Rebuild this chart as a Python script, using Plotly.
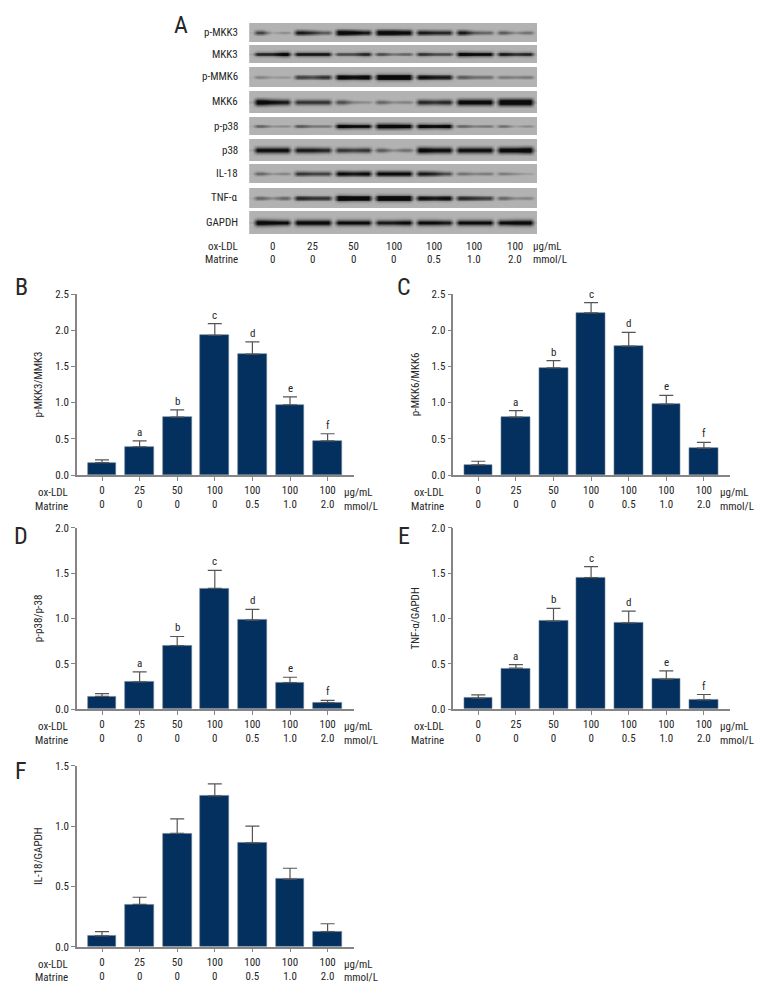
import math
import plotly.graph_objects as go

W, H = 780, 1008
FONT = "Roboto Condensed, Open Sans Condensed, DejaVu Sans Condensed, Roboto"
TXT = "#262626"
AXIS = "#858585"
BAR = "#03305f"
FS = 11

ox_ldl = ["0", "25", "50", "100", "100", "100", "100"]
matrine = ["0", "0", "0", "0", "0.5", "1.0", "2.0"]
letters = ["", "a", "b", "c", "d", "e", "f"]

# bar heights and the tops of their error bars
mkk3_val = [0.17, 0.39, 0.80, 1.93, 1.67, 0.97, 0.47]
mkk3_top = [0.21, 0.47, 0.90, 2.09, 1.84, 1.08, 0.57]
mkk6_val = [0.14, 0.80, 1.48, 2.24, 1.78, 0.98, 0.37]
mkk6_top = [0.19, 0.89, 1.58, 2.38, 1.97, 1.10, 0.45]
p38_val = [0.14, 0.30, 0.70, 1.33, 0.98, 0.29, 0.07]
p38_top = [0.17, 0.41, 0.80, 1.53, 1.10, 0.35, 0.095]
tnf_val = [0.12, 0.45, 0.97, 1.45, 0.95, 0.33, 0.10]
tnf_top = [0.155, 0.49, 1.11, 1.57, 1.08, 0.42, 0.16]
il18_val = [0.09, 0.35, 0.94, 1.25, 0.86, 0.56, 0.125]
il18_top = [0.125, 0.41, 1.06, 1.35, 1.00, 0.65, 0.19]

# blot band darkness: left, middle, right part of each lane
blot_pmkk3 = [.7,.2,.35, .85,.75,.6, 1,.95,.85, 1,1,.95, .85,.8,.8, .85,.6,.55, .6,.35,.5]
blot_mkk3 = [.75,.75,.9, .8,.8,.8, .6,.6,.75, .6,.4,.5, .7,.6,.6, .9,.85,.85, .8,.7,.75]
blot_pmmk6 = [.35,.2,.25, .65,.6,.7, .9,.85,.9, 1,1,1, .85,.8,.8, .55,.45,.45, .4,.35,.4]
blot_mkk6 = [.95,.85,.8, .7,.7,.7, .6,.35,.3, .5,.3,.35, .75,.7,.75, .9,.9,.9, 1,1,1]
blot_pp38 = [.5,.25,.3, .55,.4,.4, .9,.85,.85, 1,1,.95, .9,.85,.9, .5,.35,.4, .45,.15,.3]
blot_p38 = [.85,.85,.85, .8,.8,.75, .7,.65,.7, .55,.3,.45, .9,.85,.85, .85,.85,.85, .9,.9,.95]
blot_il18 = [.55,.3,.4, .75,.7,.7, .9,.85,.9, .9,.9,.9, .85,.8,.65, .5,.4,.45, .45,.35,.25]
blot_tnf = [.5,.3,.5, .75,.7,.7, 1,.95,.95, 1,1,1, .85,.8,.85, .75,.7,.65, .5,.3,.35]
blot_gapdh = [1,.95,.9, .95,.95,.95, .9,.9,.9, .85,.85,.9, .9,.9,.85, .9,.9,.9, .9,.95,.95]

blots = [
    ("p-MKK3", blot_pmkk3, 23, 42),
    ("MKK3", blot_mkk3, 45, 63),
    ("p-MMK6", blot_pmmk6, 67, 87),
    ("MKK6", blot_mkk6, 91, 113),
    ("p-p38", blot_pp38, 117, 135),
    ("p38", blot_p38, 139, 161),
    ("IL-18", blot_il18, 164, 183),
    ("TNF-α", blot_tnf, 188, 208),
    ("GAPDH", blot_gapdh, 211, 234),
]

panels = [
    ("B", "p-MKK3/MMK3", mkk3_val, mkk3_top, 2.5, 77, 294, 475, [0, .5, 1, 1.5, 2, 2.5], True),
    ("C", "p-MKK6/MKK6", mkk6_val, mkk6_top, 2.5, 453.3, 294, 475, [0, .5, 1, 1.5, 2, 2.5], True),
    ("D", "p-p38/p-38", p38_val, p38_top, 2.0, 77, 527.7, 709, [0, .5, 1, 1.5, 2], True),
    ("E", "TNF-α/GAPDH", tnf_val, tnf_top, 2.0, 453.3, 527.7, 709, [0, .5, 1, 1.5, 2], True),
    ("F", "IL-18/GAPDH", il18_val, il18_top, 1.5, 77, 765.7, 946.7, [0, .5, 1, 1.5], False),
]

fig = go.Figure()
annots = []
layout = {}


def fx(p):
    return p / W


def fy(p):
    return 1 - p / H


def note(text, x, y, anchor="center", size=FS, angle=0):
    annots.append(dict(text=text, x=fx(x), y=fy(y), xref="paper", yref="paper",
                       xanchor=anchor, yanchor="middle", showarrow=False, textangle=angle,
                       font=dict(family=FONT, size=size, color=TXT)))


# ---------- panel A ----------
n = 0
for name, vals, top, bot in blots:
    n += 1
    xs, cols = [], []
    for lane in range(7):
        L, M, R = vals[lane * 3:lane * 3 + 3]
        prev = vals[lane * 3 - 1] if lane else L
        xs += [lane + k / 8 for k in range(-4, 4)]
        cols += [0.2 * (prev + L) / 2, L, L, (L + M) / 2, M, (M + R) / 2, R, R]
    xs.append(6.5)
    cols.append(0.2 * vals[-1])
    ys = [i / 12 for i in range(-12, 13)]
    z = []
    for y in ys:
        row = []
        for c in cols:
            w = 0.05 + 0.25 * c
            row.append(min(1, 1.25 * c ** 1.3 * math.exp(-(y / w) ** 2)))
        z.append(row)
    fig.add_trace(go.Heatmap(x=xs, y=ys, z=z, zmin=0, zmax=1, zsmooth="best", showscale=False,
                             hoverinfo="skip", xaxis=f"x{n}", yaxis=f"y{n}",
                             colorscale=[[0, "#b2b2b2"], [0.5, "#666666"], [1, "#0a0a0a"]]))
    layout[f"xaxis{n}"] = dict(domain=[fx(247), fx(537)], anchor=f"y{n}", visible=False,
                               automargin=False, range=[-0.617, 6.54], fixedrange=True)
    layout[f"yaxis{n}"] = dict(domain=[fy(bot), fy(top)], anchor=f"x{n}", visible=False,
                               automargin=False, range=[-1, 1], fixedrange=True)
    note(name, 240, (top + bot) / 2, "right")

for i in range(7):
    note(ox_ldl[i], 272 + 40.5 * i, 246)
    note(matrine[i], 272 + 40.5 * i, 259)
note("ox-LDL", 240, 246, "right")
note("Matrine", 240, 259, "right")
note("μg/mL", 531, 246, "left")
note("mmol/L", 531, 259, "left")
note("A", 181, 25, size=24)

# ---------- bar panels ----------
for tag, ytitle, vals, tops, ymax, x0, ytop, ybot, yticks, with_letters in panels:
    n += 1
    step = 37.6
    c0 = x0 + 25
    right = x0 + 277
    fig.add_trace(go.Bar(
        x=list(range(7)), y=vals, width=0.77, xaxis=f"x{n}", yaxis=f"y{n}",
        marker=dict(color=BAR, line=dict(color="#6f7f92", width=0.6)),
        error_y=dict(type="data", symmetric=False, array=[t - v for t, v in zip(tops, vals)],
                     arrayminus=[0] * 7, color="#555555", thickness=1.2, width=7),
        hoverinfo="skip"))
    layout[f"xaxis{n}"] = dict(
        domain=[fx(x0), fx(right)], anchor=f"y{n}", range=[-25 / step, (right - c0) / step],
        automargin=False,
        tickmode="array", tickvals=list(range(7)),
        ticktext=[f"{a}<br>{b}" for a, b in zip(ox_ldl, matrine)],
        ticks="outside", ticklen=4, tickwidth=1.3, tickcolor=AXIS, tickangle=0,
        showline=True, linecolor=AXIS, linewidth=1.5, showgrid=False, zeroline=False,
        tickfont=dict(family=FONT, size=FS, color=TXT), fixedrange=True)
    layout[f"yaxis{n}"] = dict(
        domain=[fy(ybot), fy(ytop)], anchor=f"x{n}", range=[0, ymax], automargin=False,
        tickmode="array", tickvals=yticks, ticktext=[f"{t:.1f}" for t in yticks],
        ticks="outside", ticklen=4, tickwidth=1.3, tickcolor=AXIS,
        showline=True, linecolor=AXIS, linewidth=1.5, showgrid=False, zeroline=False,
        tickfont=dict(family=FONT, size=FS, color=TXT), fixedrange=True,
        title=dict(text=ytitle, font=dict(family=FONT, size=FS, color=TXT), standoff=10))
    row1, row2 = ybot + 17.5, ybot + 31
    note("ox-LDL", x0 - 7, row1, "right")
    note("Matrine", x0 - 7, row2, "right")
    note("μg/mL", x0 + 265, row1, "left")
    note("mmol/L", x0 + 265, row2, "left")
    note(tag, x0 - 56 if x0 < 100 else x0 - 49, ytop - 7 if tag in "BC" else ytop + (8 if tag in "DE" else 5), size=24)
    if with_letters:
        for i, t in enumerate(letters):
            if t:
                annots.append(dict(text=t, x=i, y=tops[i], xref=f"x{n}", yref=f"y{n}",
                                   xanchor="center", yanchor="bottom", yshift=0, showarrow=False,
                                   font=dict(family=FONT, size=FS, color=TXT)))

fig.update_layout(width=W, height=H, margin=dict(l=0, r=0, t=0, b=0), paper_bgcolor="white",
                  plot_bgcolor="white", showlegend=False, annotations=annots, bargap=0, **layout)
fig.write_html("out.html", post_script="document.body.style.margin='0';",
               config={"displayModeBar": False})
